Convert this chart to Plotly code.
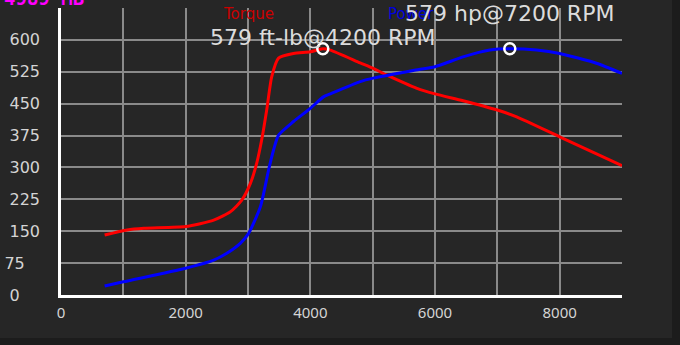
import plotly.graph_objects as go

# Data
rpm_torque = [700, 1060, 1330, 2000, 2450, 2720, 2900, 3040, 3140, 3220, 3300, 3380, 3490, 3730, 4000, 4200,
              4320, 4800, 5010, 5230, 5710, 6000, 6450, 7000, 7310, 8000, 9000]
torque = [141, 153, 157, 161, 176, 196, 223, 263, 310, 365, 435, 513, 557, 568, 572, 579,
          576, 546, 533, 517, 486, 473, 457, 435, 419, 372, 304]

rpm_power = [700, 1000, 2000, 2450, 2660, 2880, 3010, 3200, 3330, 3410, 3490, 3730, 4000, 4210, 4320, 4800,
             5010, 5650, 6000, 6450, 6880, 7200, 7630, 8000, 8590, 9000]
power = [21, 31, 63, 82, 98, 122, 145, 208, 294, 341, 376, 408, 439, 466, 473, 502,
         510, 528, 537, 560, 576, 579, 576, 568, 545, 521]

peak_torque_rpm = 4200
peak_torque = 579
peak_power_rpm = 7200
peak_power = 579

y_ticks = [0, 75, 150, 225, 300, 375, 450, 525, 600, 675]
y_tick_labels = ["0", "75", "150", "225", "300", "375", "450", "525", "600", "675"]
x_ticks = [0, 2000, 4000, 6000, 8000]

BG = "#262626"
FONT = "Noto Sans"
WIDE = "DejaVu Sans"
NB = "\u00a0"

# pad short y labels so they sit roughly like the reference
y_text = [t + NB * (4 if len(t) == 1 else (3 if len(t) == 2 else 0)) for t in y_tick_labels]

fig = go.Figure()
fig.add_trace(go.Scatter(x=rpm_torque, y=torque, mode="lines", line=dict(color="#ff0000", width=3, shape="spline", smoothing=0.6),
                         name="Torque", hoverinfo="skip"))
fig.add_trace(go.Scatter(x=rpm_power, y=power, mode="lines", line=dict(color="#0000ff", width=3, shape="spline", smoothing=0.6),
                         name="Power", hoverinfo="skip"))
fig.add_trace(go.Scatter(x=[peak_torque_rpm, peak_power_rpm], y=[peak_torque, peak_power], mode="markers",
                         marker=dict(symbol="circle-open", size=11, color="white", line=dict(width=2.5, color="white")),
                         hoverinfo="skip"))

fig.add_annotation(x=0.335, y=1.017, xref="paper", yref="paper", showarrow=False, text="Torque",
                   font=dict(family=WIDE, size=15, color="#cc0000"))
fig.add_annotation(x=0.668, y=1.017, xref="paper", yref="paper", showarrow=False, text="Power",
                   font=dict(family=WIDE, size=15, color="#0000dd"))
fig.add_annotation(x=peak_torque_rpm, y=peak_torque, xref="x", yref="y", showarrow=False,
                   text=f"{peak_torque} ft-lb@{peak_torque_rpm} RPM", yshift=11,
                   font=dict(family=WIDE, size=22, color="#dcdcdc"))
fig.add_annotation(x=peak_power_rpm, y=peak_power, xref="x", yref="y", showarrow=False,
                   text=f"{peak_power} hp@{peak_power_rpm} RPM", yshift=35,
                   font=dict(family=WIDE, size=22, color="#dcdcdc"))
fig.add_annotation(x=-0.105, y=1.080, xref="paper", yref="paper", showarrow=False, xanchor="left",
                   text="<b>4989 MB</b>", font=dict(family="DejaVu Sans Mono", size=19, color="#ff00ff"))

fig.update_layout(
    width=680, height=345,
    margin=dict(l=61, r=58, t=8, b=50),
    paper_bgcolor="#1c1c1c", plot_bgcolor=BG,
    showlegend=False,
    shapes=[dict(type="rect", xref="paper", yref="paper", x0=-0.2, x1=(672 - 61) / 561,
                 y0=(295 - 338) / 287, y1=1.1, fillcolor=BG, line=dict(width=0), layer="below")],
    xaxis=dict(range=[0, 9000], tickvals=x_ticks, showgrid=True, automargin=False,
               gridcolor="#8a8a8a", gridwidth=1.5, showline=True, linecolor="white", linewidth=2.5,
               zeroline=False, ticks="", ticklabelstandoff=2,
               tickfont=dict(family=FONT, size=15, color="#d4d4d4"),
               minor=dict(dtick=1000, showgrid=True, gridcolor="#8a8a8a", gridwidth=1.5)),
    yaxis=dict(range=[0, 675], tickvals=y_ticks, ticktext=y_text, showgrid=True, automargin=False,
               gridcolor="#8a8a8a", gridwidth=1.5, showline=True, linecolor="white", linewidth=2.5,
               zeroline=False, ticks="", ticklabelstandoff=15,
               tickfont=dict(family=WIDE, size=16, color="#d4d4d4")),
)

fig.write_html("out.html")
